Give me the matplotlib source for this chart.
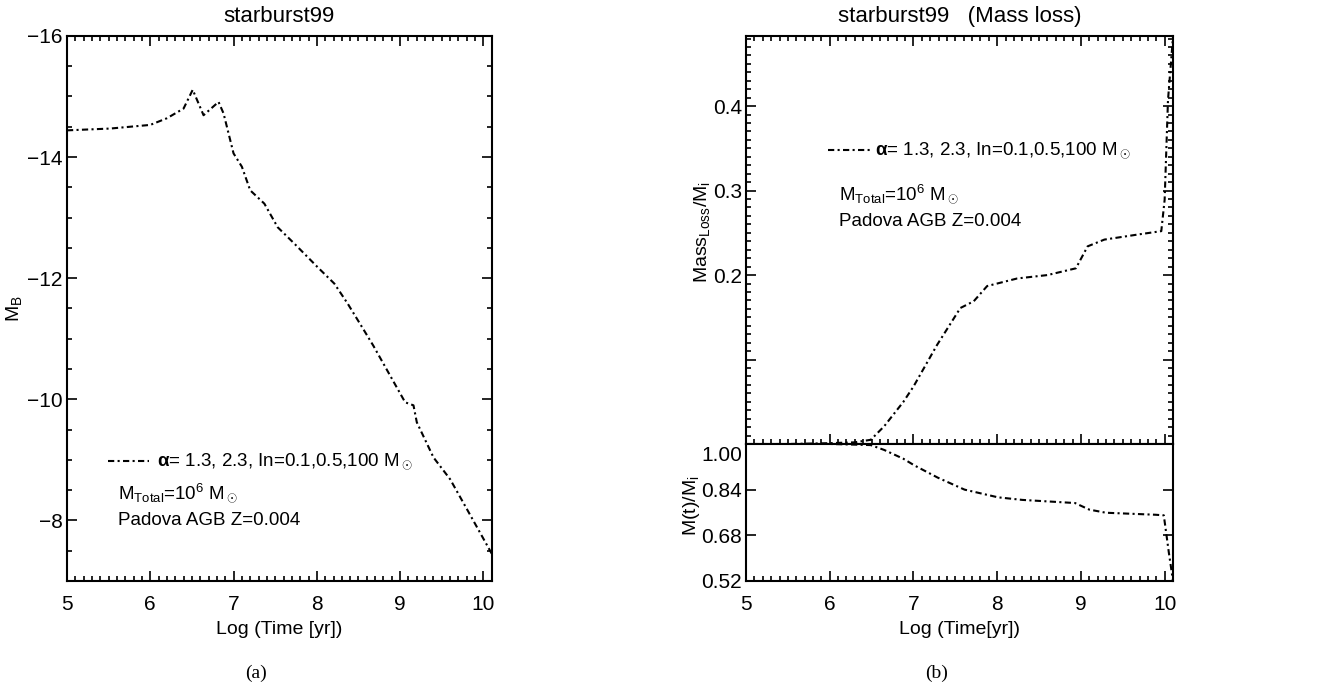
import matplotlib
matplotlib.use('Agg')
import matplotlib.pyplot as plt
from matplotlib.ticker import MultipleLocator, FixedLocator

# ===================== DATA =====================
# left panel: B-band absolute magnitude vs log age
logt_mb = [5.0, 5.52, 6.0, 6.2, 6.4, 6.51, 6.64, 6.82, 6.88, 6.96, 7.0, 7.1,
           7.2, 7.37, 7.53, 7.73, 8.01, 8.21, 8.37, 8.57, 8.68, 9.06, 9.16,
           9.2, 9.4, 9.6, 9.8, 10.1]
mag_b = [-14.44, -14.47, -14.53, -14.64, -14.80, -15.11, -14.69, -14.91,
         -14.72, -14.28, -14.06, -13.84, -13.45, -13.23, -12.84, -12.57,
         -12.18, -11.91, -11.58, -11.13, -10.88, -9.95, -9.90, -9.62, -9.04,
         -8.68, -8.19, -7.45]

# right panel, top: cumulative mass loss fraction
logt_loss = [5.0, 5.5, 6.0, 6.3, 6.49, 6.65, 6.88, 7.0, 7.28, 7.56, 7.72,
             7.88, 8.24, 8.6, 8.94, 9.08, 9.28, 9.68, 9.96, 10.0, 10.04, 10.1]
mass_loss = [0.0, 0.0, 0.001, 0.002, 0.005, 0.021, 0.050, 0.068, 0.117,
             0.161, 0.169, 0.187, 0.196, 0.200, 0.208, 0.234, 0.242, 0.248,
             0.252, 0.289, 0.407, 0.482]

# right panel, bottom: remaining mass fraction
logt_mt = [5.0, 6.0, 6.49, 6.65, 6.88, 7.01, 7.29, 7.61, 8.01, 8.3, 8.93,
           9.1, 9.3, 9.89, 9.99, 10.05, 10.1]
mass_frac = [1.0, 1.0, 0.996, 0.979, 0.948, 0.925, 0.882, 0.840, 0.813,
             0.804, 0.793, 0.770, 0.759, 0.752, 0.750, 0.62, 0.52]

legend_txt = r'$\mathbf{\alpha}$= 1.3, 2.3, In=0.1,0.5,100 M$_\odot$'
mtotal_txt = r'M$_{\mathrm{Total}}$=10$^{6}$ M$_\odot$'
model_txt = 'Padova AGB Z=0.004'

# ===================== STYLE =====================
FAM = ['Liberation Sans', 'DejaVu Sans']
plt.rcParams['font.family'] = FAM
plt.rcParams['mathtext.fontset'] = 'custom'
plt.rcParams['mathtext.rm'] = 'Liberation Sans'
plt.rcParams['mathtext.it'] = 'Liberation Sans:italic'
plt.rcParams['mathtext.bf'] = 'Liberation Sans:bold'
plt.rcParams['font.size'] = 14
plt.rcParams['axes.linewidth'] = 1.5

FS_TICK = 15   # tick labels
FS_TXT = 14    # axis labels
FS_ANN = 13.5  # annotations inside the panels
LS = dict(color='black', lw=1.5, dashes=(3, 1.6, 1, 1.6))


def style_axis(ax):
    ax.tick_params(which='both', direction='in', top=True, right=True,
                   labelsize=FS_TICK, width=1.2)
    ax.tick_params(which='major', length=7)
    ax.tick_params(which='minor', length=3.5)
    ax.tick_params(axis='x', pad=10)
    ax.tick_params(axis='y', pad=3)


def annotate(ax, x0, x1, y1, xt, y2, y3):
    ax.plot([x0, x1], [y1, y1], transform=ax.transAxes, **LS)
    ax.text(xt, y1, legend_txt, transform=ax.transAxes, va='center', fontsize=FS_ANN)
    ax.text(x0 + 0.024, y2, mtotal_txt, transform=ax.transAxes, va='center', fontsize=FS_ANN)
    ax.text(x0 + 0.024, y3, model_txt, transform=ax.transAxes, va='center', fontsize=FS_ANN)


fig = plt.figure(figsize=(13.36, 6.9), dpi=100)

# ===================== PANEL (a) =====================
ax1 = fig.add_axes([0.0501, 0.158, 0.318, 0.790])
ax1.plot(logt_mb, mag_b, **LS)
ax1.set_xlim(5, 10.1)
ax1.set_ylim(-7, -16)
ax1.set_xticks([5, 6, 7, 8, 9, 10])
ax1.set_yticks([-16, -14, -12, -10, -8])
ax1.xaxis.set_minor_locator(MultipleLocator(0.1))
ax1.yaxis.set_minor_locator(MultipleLocator(0.5))
style_axis(ax1)
ax1.set_title('starburst99', fontsize=16, pad=10)
ax1.set_xlabel('Log (Time [yr])', fontsize=FS_TXT, labelpad=5)
ax1.set_ylabel(r'M$_{\mathrm{B}}$', fontsize=FS_TXT)
ax1.yaxis.set_label_coords(-0.1, 0.5)
annotate(ax1, 0.097, 0.192, 0.221, 0.211, 0.160, 0.111)

# ===================== PANEL (b) top =====================
ax2 = fig.add_axes([0.5584, 0.3565, 0.3196, 0.5913])
ax2.plot(logt_loss, mass_loss, **LS)
ax2.set_xlim(5, 10.1)
ax2.set_ylim(0, 0.483)
ax2.set_xticks([5, 6, 7, 8, 9, 10])
ax2.xaxis.set_minor_locator(MultipleLocator(0.1))
ax2.yaxis.set_major_locator(FixedLocator([0.1, 0.2, 0.3, 0.4]))
ax2.set_yticklabels(['', '0.2', '0.3', '0.4'])
ax2.yaxis.set_minor_locator(MultipleLocator(0.01))
style_axis(ax2)
ax2.tick_params(labelbottom=False)
ax2.set_title('starburst99   (Mass loss)', fontsize=16, pad=10)
ax2.set_ylabel(r'Mass$_{\mathrm{Loss}}$/M$_{\mathrm{i}}$', fontsize=FS_TXT)
ax2.yaxis.set_label_coords(-0.08, 0.52)
annotate(ax2, 0.193, 0.291, 0.721, 0.302, 0.611, 0.546)

# ===================== PANEL (b) bottom =====================
ax3 = fig.add_axes([0.5584, 0.158, 0.3196, 0.1986])
ax3.plot(logt_mt, mass_frac, **LS)
ax3.set_xlim(5, 10.1)
ax3.set_ylim(0.52, 1.0)
ax3.set_xticks([5, 6, 7, 8, 9, 10])
ax3.xaxis.set_minor_locator(MultipleLocator(0.1))
ax3.set_yticks([0.52, 0.68, 0.84, 1.00])
ax3.set_yticklabels(['0.52', '0.68', '0.84', ''])
style_axis(ax3)
ax3.tick_params(top=False, which='both')
# top label sits just under the shared boundary, as in the original
ax3.annotate('1.00', xy=(0, 1.0), xycoords=('axes fraction', 'data'),
             xytext=(-3, -8), textcoords='offset points',
             ha='right', va='center', fontsize=FS_TICK)
ax3.set_xlabel('Log (Time[yr])', fontsize=FS_TXT, labelpad=5)
ax3.set_ylabel(r'M(t)/M$_{\mathrm{i}}$', fontsize=FS_TXT)
ax3.yaxis.set_label_coords(-0.103, 0.55)

# sub captions
fig.text(0.1916, 0.0246, '(a)', ha='center', va='center', fontsize=14,
         family=['Liberation Serif', 'DejaVu Serif'])
fig.text(0.701, 0.0246, '(b)', ha='center', va='center', fontsize=14,
         family=['Liberation Serif', 'DejaVu Serif'])

fig.savefig('out.png', dpi=100)
